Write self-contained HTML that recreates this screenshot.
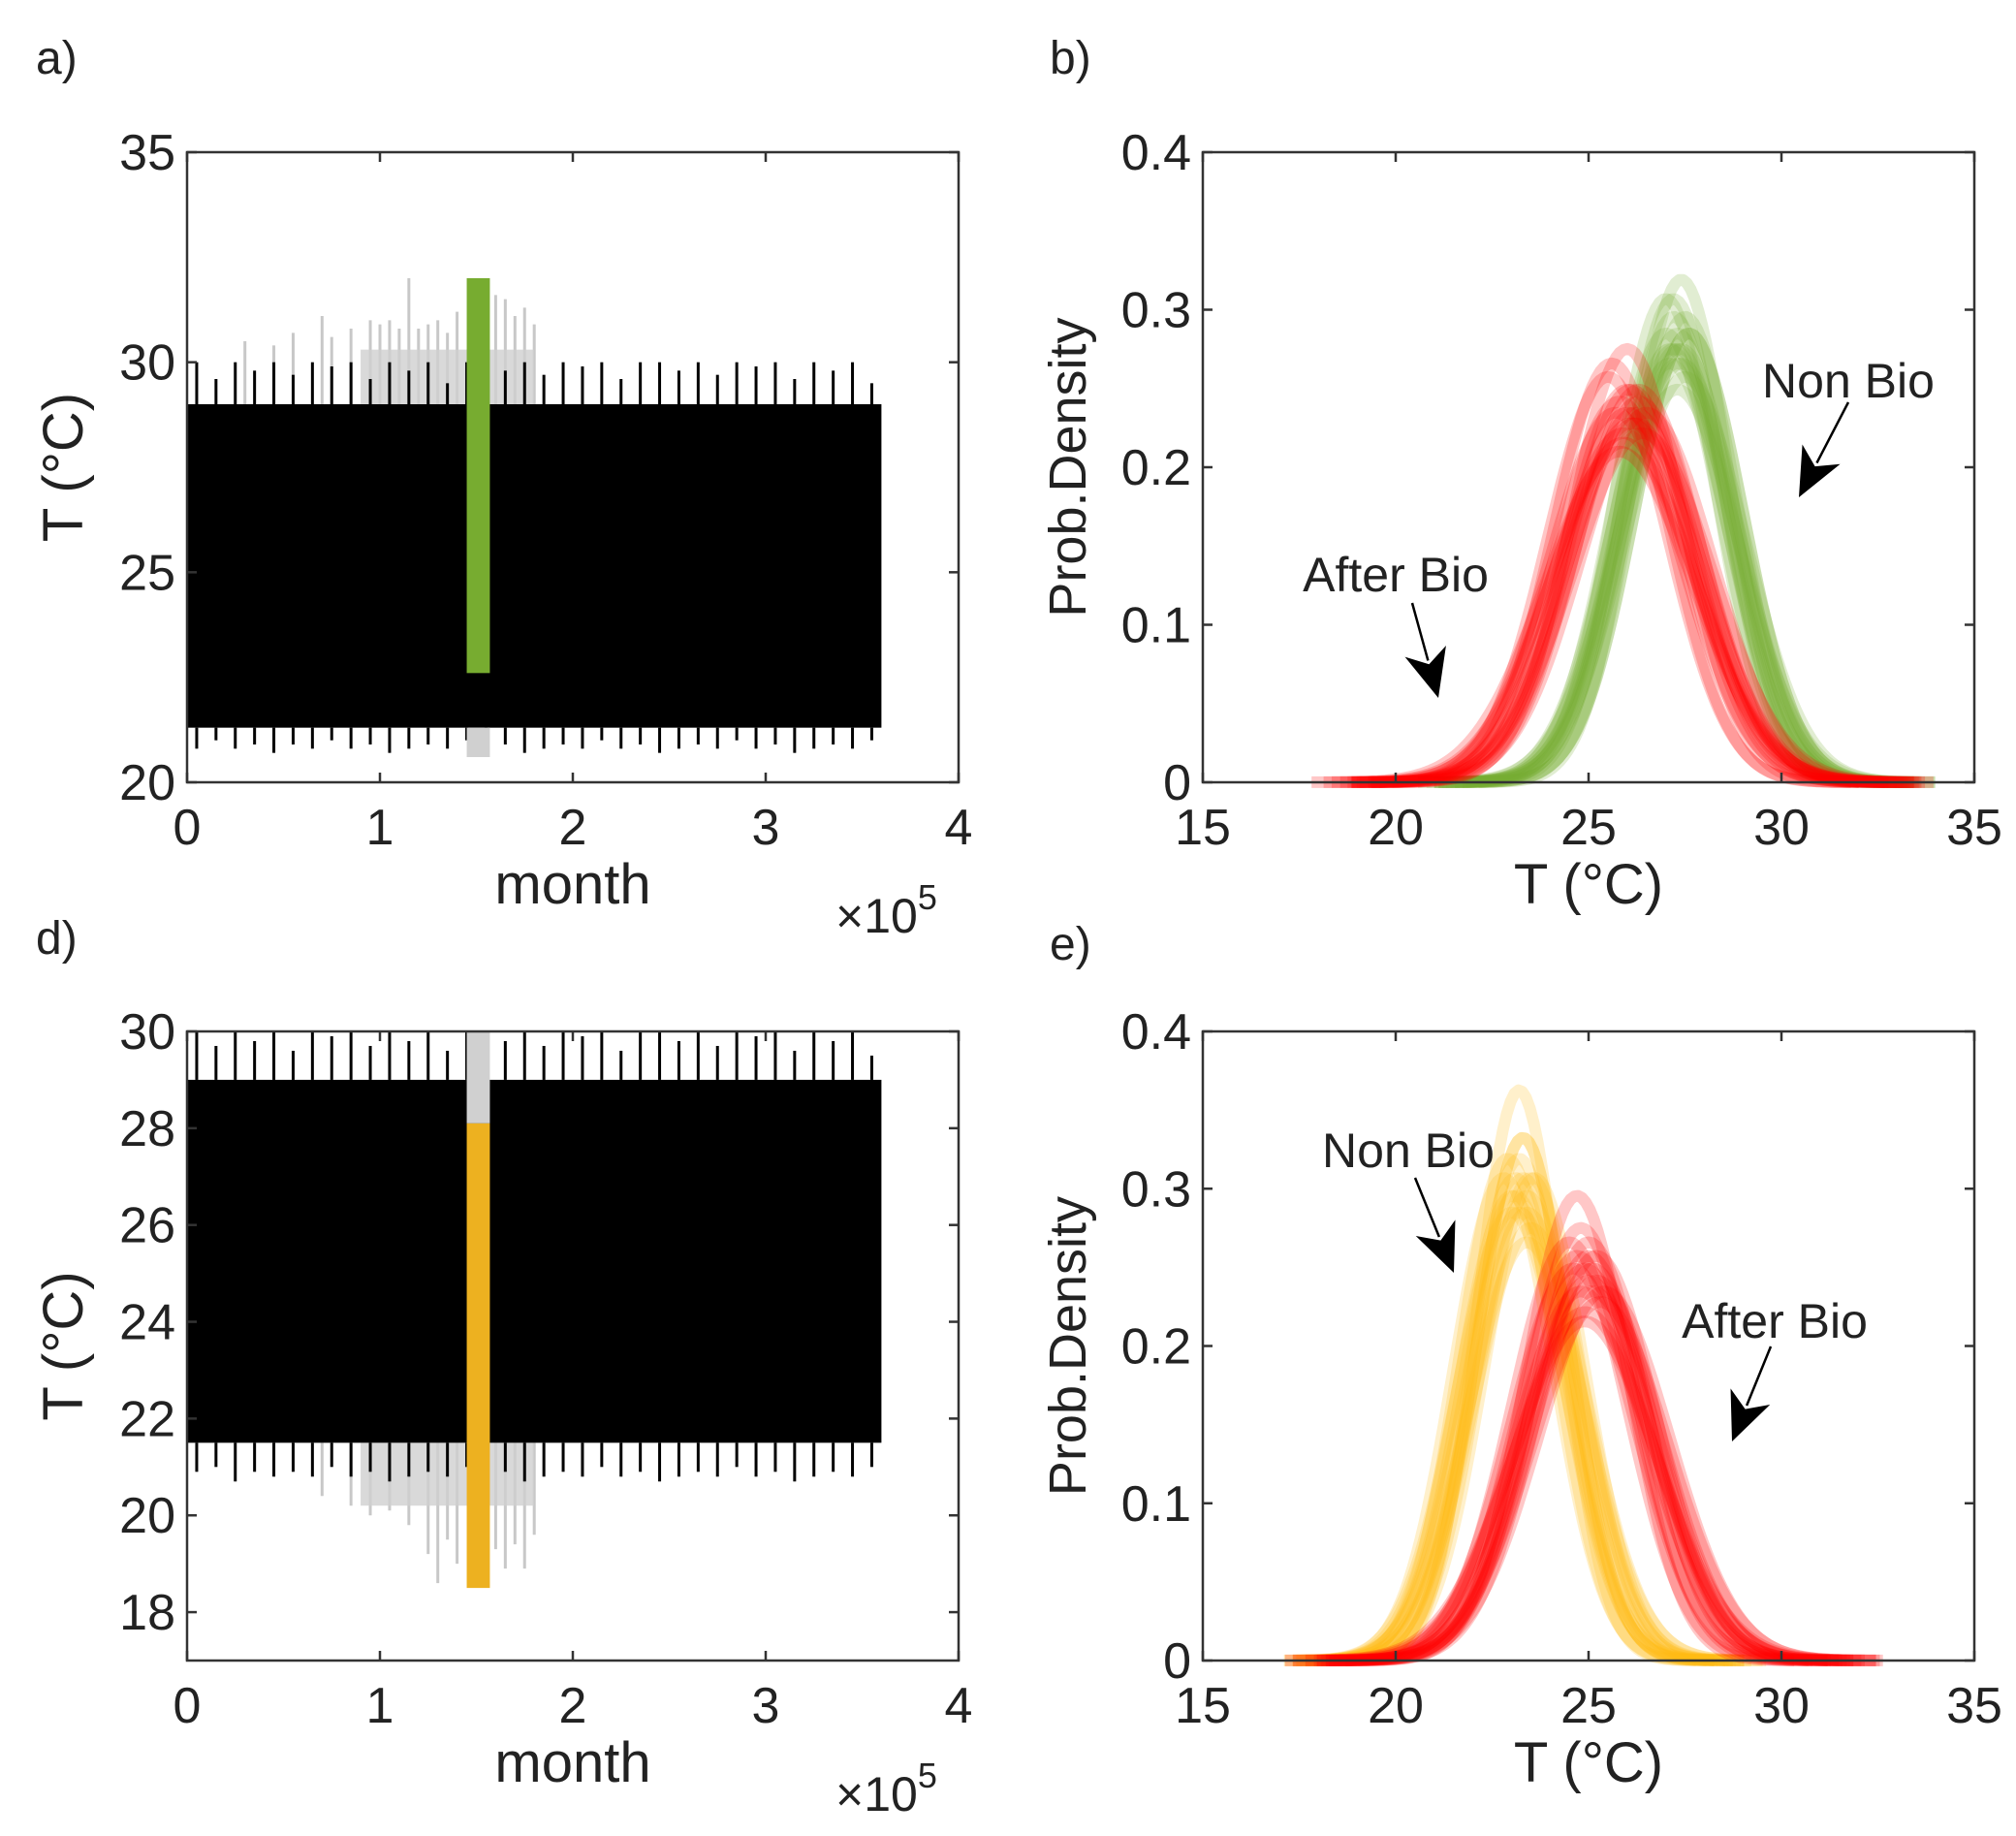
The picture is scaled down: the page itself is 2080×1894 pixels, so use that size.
<!DOCTYPE html>
<html><head><meta charset="utf-8"><style>
body{margin:0;background:#fff}
svg{display:block;font-family:"Liberation Sans",Arial,sans-serif}
</style></head><body>
<svg id="fig" width="2080" height="1894" viewBox="0 0 2080 1894">
<g id="g"></g>
</svg>
<script>
// ---- data ----
const bandA = [21.3, 29.0];
const topSpikesA = [30,29.6,30,29.8,30,29.7,30,29.9,30,29.6,30,29.8,30,29.5,30,30,29.8,30,29.7,30,29.9,30,29.6,30,30,29.8,30,29.7,30,29.9,30,29.6,30,29.8,30,29.5];
const botSpikesA = [20.8,21.0,20.8,20.9,20.7,20.9,20.8,21.0,20.8,20.9,20.7,20.8,20.9,20.8,21.0,20.8,20.9,20.7,20.8,20.9,20.8,21.0,20.8,20.9,20.7,20.8,20.9,20.8,21.0,20.8,20.9,20.7,20.8,20.9,20.8,21.0];
const grayXA = [0.3,0.45,0.55,0.7,0.75,0.85,0.95,1.0,1.05,1.1,1.15,1.2,1.25,1.3,1.35,1.4,1.6,1.65,1.7,1.75,1.8];
const grayHiA = [30.5,30.4,30.7,31.1,30.6,30.8,31.0,30.9,31.0,30.8,32.0,30.8,30.9,31.0,30.7,31.2,31.6,31.5,31.1,31.3,30.9];
const greenBar = [1.45,1.57,22.6,32.0];
const bandD = [21.5, 29.0];
const topSpikesD = [30,29.7,30,29.8,30,29.6,30,29.9,30,29.7,30,29.8,30,29.6,30,30,29.8,30,29.7,30,29.9,30,29.6,30,30,29.8,30,29.7,30,29.9,30,29.6,30,29.8,30,29.5];
const botSpikesD = [20.9,21.0,20.7,20.9,20.8,20.9,20.8,21.0,20.8,20.9,20.7,20.8,20.9,20.8,21.0,20.8,20.9,20.7,20.8,20.9,20.8,21.0,20.8,20.9,20.7,20.8,20.9,20.8,21.0,20.8,20.9,20.7,20.8,20.9,20.8,21.0];
const grayXD = [0.7,0.85,0.95,1.05,1.15,1.25,1.3,1.35,1.4,1.6,1.65,1.7,1.75,1.8];
const grayLoD = [20.4,20.2,20.0,20.1,19.8,19.2,18.6,19.5,19.0,19.3,18.9,19.4,18.9,19.6];
const orangeBar = [1.45,1.57,18.5,28.1];
const redMeansB = [25.5,25.7,25.8,25.9,26.0,26.0,26.1,26.2,26.3,26.4,25.6,26.5,25.9,26.1,26.2,25.8,26.0,26.3];
const redSdB = [1.55,1.7,1.65,1.8,1.7,1.6,1.75,1.7,1.65,1.8,1.5,1.7,1.85,1.6,1.75,1.9,1.45,1.6];
const greenMeansB = [27.0,27.1,27.2,27.3,27.3,27.4,27.5,27.6,27.2,27.4,27.3,27.5,27.1,27.6,27.2,27.4,27.3,27.0];
const greenSdB = [1.4,1.45,1.35,1.5,1.4,1.45,1.55,1.4,1.3,1.5,1.45,1.35,1.5,1.4,1.45,1.25,1.6,1.3];
const orangeMeansE = [22.9,23.0,23.1,23.2,23.3,23.3,23.4,23.5,23.6,23.2,23.4,23.1,23.5,23.3,23.0,23.2,23.4,22.8];
const orangeSdE = [1.25,1.35,1.3,1.4,1.3,1.2,1.35,1.45,1.3,1.25,1.4,1.35,1.3,1.2,1.4,1.1,1.5,1.3];
const redMeansE = [24.5,24.6,24.7,24.8,24.9,25.0,25.0,25.1,25.2,25.3,24.8,25.1,24.9,25.0,25.2,24.7,25.4,24.9];
const redSdE = [1.5,1.6,1.55,1.7,1.6,1.5,1.65,1.7,1.55,1.75,1.45,1.6,1.8,1.55,1.65,1.35,1.7,1.85];
const xTicksTS = [0,1,2,3,4];
const yTicksA = [20,25,30,35];
const yTicksD = [18,20,22,24,26,28,30];
const xTicksPD = [15,20,25,30,35];
const yTicksPD = [0,0.1,0.2,0.3,0.4];

const NS="http://www.w3.org/2000/svg";
const G=document.getElementById('g');
function mk(tag,attrs,parent){const e=document.createElementNS(NS,tag);for(const k in attrs)e.setAttribute(k,attrs[k]);(parent||G).appendChild(e);return e;}
function txt(s,x,y,size,anchor,name,rot){const t=mk('text',{x:x,y:y,'font-size':size,'text-anchor':anchor||'middle',fill:'#222'});


if(rot)t.setAttribute('transform','rotate(-90 '+x+' '+y+')');t.textContent=s;return t;}

function axes(L,T,R,B,xs,ys,xt,yt,fmtY,pre){
  const grp=mk('g',{});
  
  
  mk('rect',{x:L,y:T,width:R-L,height:B-T,fill:'none',stroke:'#333','stroke-width':2.5},grp);
  xt.forEach(v=>{const x=xs(v);mk('line',{x1:x,x2:x,y1:B,y2:B-10,stroke:'#333','stroke-width':2.5},grp);mk('line',{x1:x,x2:x,y1:T,y2:T+10,stroke:'#333','stroke-width':2.5},grp);
    txt(String(v),x,B+64,52,'middle',pre+'-x-tick-label');});
  yt.forEach(v=>{const y=ys(v);mk('line',{x1:L,x2:L+10,y1:y,y2:y,stroke:'#333','stroke-width':2.5},grp);mk('line',{x1:R,x2:R-10,y1:y,y2:y,stroke:'#333','stroke-width':2.5},grp);
    txt(fmtY(v),L-12,y+18,52,'end',pre+'-y-tick-label');});
}

function tsPanel(T,B,ymin,ymax,band,topS,botS,gx,gv,bar,barColor,grayUp,pre,yt){
  const L=193,R=989;
  const xs=v=>L+v/4*(R-L), ys=t=>B-(t-ymin)/(ymax-ymin)*(B-T);
  gx.forEach((v,i)=>{const l=mk('line',{x1:xs(v),x2:xs(v),y1:grayUp?ys(band[1]):ys(band[0]),y2:ys(gv[i]),stroke:'#c8c8c8','stroke-width':3});
    
    });
  const gr=mk('rect',{x:xs(0.9),y:grayUp?ys(30.3):ys(band[0]),width:xs(1.8)-xs(0.9),height:grayUp?ys(band[1])-ys(30.3):ys(20.2)-ys(band[0]),fill:'#d0d0d0',opacity:0.8});
  
  
  const r=mk('rect',{x:xs(0),y:ys(band[1]),width:xs(3.6)-xs(0),height:ys(band[0])-ys(band[1]),fill:'#000'});
  
  
  const n=topS.length;
  for(let i=0;i<n;i++){const x=xs(0.05+i*0.1);
    const a=mk('line',{x1:x,x2:x,y1:ys(band[1]),y2:ys(topS[i]),stroke:'#000','stroke-width':3});
    
    
    const b=mk('line',{x1:x,x2:x,y1:ys(band[0]),y2:ys(botS[i]),stroke:'#000','stroke-width':3});
    
    }
  // gray column behind bar
  const gy1=grayUp?ys(band[0]):ys(30), gy2=grayUp?ys(20.6):ys(bar[3]);
  const gc=mk('rect',{x:xs(bar[0]),y:gy1,width:xs(bar[1])-xs(bar[0]),height:gy2-gy1,fill:'#d0d0d0'});
  
  
  const br=mk('rect',{x:xs(bar[0]),y:ys(bar[3]),width:xs(bar[1])-xs(bar[0]),height:ys(bar[2])-ys(bar[3]),fill:barColor});
  
  
  axes(L,T,R,B,xs,ys,xTicksTS,yt,v=>String(v),pre);
  txt('month',591,B+125,58,'middle',pre+'-x-axis-title');
  const m=txt('×10',862,B+155,50,'start',pre+'-x-exponent');
  const s=mk('tspan',{dy:-24,'font-size':36});s.textContent='5';m.appendChild(s);
  txt('T (°C)',85,(T+B)/2,58,'middle',pre+'-y-axis-title',true);
}

function pdPanel(T,B,groups,pre){
  const L=1241,R=2037;
  const xs=t=>L+(t-15)/20*(R-L), ys=p=>B-p/0.4*(B-T);
  groups.forEach(gp=>{
    gp.means.forEach((mu,i)=>{const sd=gp.sd[i];let d='';
      for(let t=mu-4.2*sd;t<=mu+4.2*sd;t+=0.1){const p=Math.exp(-0.5*((t-mu)/sd)**2)/(sd*2.5066);d+=(d?'L':'M')+xs(t).toFixed(1)+' '+ys(p).toFixed(1);}
      const pa=mk('path',{d:d,fill:'none',stroke:gp.color,'stroke-width':12,'stroke-opacity':0.22,'stroke-linejoin':'round'});
      
      
    });
  });
  axes(L,T,R,B,xs,ys,xTicksPD,yTicksPD,v=>v===0?'0':v.toFixed(1),pre);
  txt('T (°C)',1639,B+125,58,'middle',pre+'-x-axis-title');
  txt('Prob.Density',1120,(T+B)/2,54,'middle',pre+'-y-axis-title',true);
}
function arrow(x1,y1,x2,y2,name){const g=mk('g',{});
  
  
  const dx=x2-x1,dy=y2-y1,len=Math.hypot(dx,dy),ux=dx/len,uy=dy/len;
  const bx=x2-ux*50,by=y2-uy*50;
  mk('line',{x1:x1,y1:y1,x2:bx+ux*10,y2:by+uy*10,stroke:'#000','stroke-width':2.5},g);
  mk('polygon',{points:`${x2},${y2} ${bx-uy*22},${by+ux*22} ${bx+ux*14},${by+uy*14} ${bx+uy*22},${by-ux*22}`,fill:'#000'},g);}

tsPanel(157,807,20,35,bandA,topSpikesA,botSpikesA,grayXA,grayHiA,greenBar,'#77ac30',true,'panel-a',yTicksA);
tsPanel(1064,1713,17,30,bandD,topSpikesD,botSpikesD,grayXD,grayLoD,orangeBar,'#edb120',false,'panel-d',yTicksD);
pdPanel(157,807,[{name:'non-bio',color:'#77ac30',means:greenMeansB,sd:greenSdB},{name:'after-bio',color:'#ff0000',means:redMeansB,sd:redSdB}],'panel-b');
pdPanel(1064,1713,[{name:'non-bio',color:'#fdb913',means:orangeMeansE,sd:orangeSdE},{name:'after-bio',color:'#ff0000',means:redMeansE,sd:redSdE}],'panel-e');

txt('Non Bio',1907,410,50,'middle','panel-b-non-bio-label');
arrow(1907,415,1856,513,'panel-b-non-bio-arrow');
txt('After Bio',1440,610,50,'middle','panel-b-after-bio-label');
arrow(1457,622,1484,720,'panel-b-after-bio-arrow');
txt('Non Bio',1453,1204,50,'middle','panel-e-non-bio-label');
arrow(1460,1215,1500,1313,'panel-e-non-bio-arrow');
txt('After Bio',1831,1380,50,'middle','panel-e-after-bio-label');
arrow(1827,1389,1787,1487,'panel-e-after-bio-arrow');

txt('a)',37,76,48,'start','panel-a-label');
txt('b)',1083,76,48,'start','panel-b-label');
txt('d)',37,984,48,'start','panel-d-label');
txt('e)',1083,990,48,'start','panel-e-label');
</script>
</body></html>
